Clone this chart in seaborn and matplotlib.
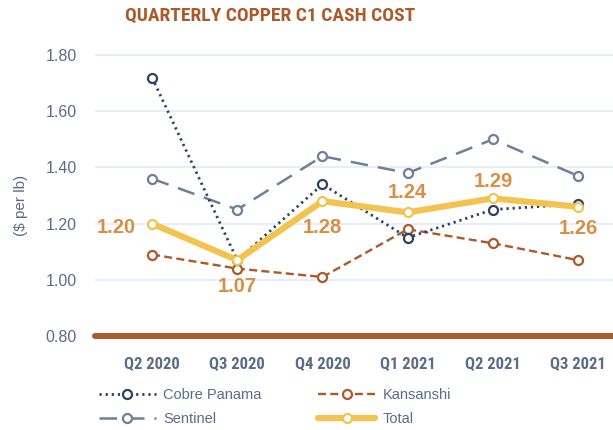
import matplotlib
matplotlib.use("Agg")
import matplotlib.pyplot as plt
from matplotlib import font_manager
import seaborn as sns
import pandas as pd

quarters = ["Q2 2020", "Q3 2020", "Q4 2020", "Q1 2021", "Q2 2021", "Q3 2021"]
cobre_panama = [1.72, 1.07, 1.34, 1.15, 1.25, 1.27]
kansanshi = [1.09, 1.04, 1.01, 1.18, 1.13, 1.07]
sentinel = [1.36, 1.25, 1.44, 1.38, 1.50, 1.37]
total = [1.20, 1.07, 1.28, 1.24, 1.29, 1.26]
y_ticks = [0.80, 1.00, 1.20, 1.40, 1.60, 1.80]

df = pd.DataFrame({"quarter": quarters, "Cobre Panama": cobre_panama,
                   "Kansanshi": kansanshi, "Sentinel": sentinel, "Total": total})

sns.set_style("white")
plt.rcParams["font.family"] = ["Liberation Sans", "DejaVu Sans"]

# pick a condensed face if one is installed
names = {f.name for f in font_manager.fontManager.ttflist}
narrow = "Liberation Sans"
for cand in ["Liberation Sans Narrow", "DejaVu Sans Condensed", "Roboto Condensed"]:
    if cand in names:
        narrow = cand
        break

navy = "#2b4262"
brown = "#ad5a2b"
slate = "#6c7f9b"
gold = "#f2c44f"
label_orange = "#d98d45"
text_grey = "#5b6c89"
grid_col = "#e2e9f7"

fig = plt.figure(figsize=(6.13, 4.30), dpi=100)
ax = fig.add_axes([0.155, 0.2186, 0.845, 0.686])

marker_kw = dict(marker="o", markersize=6.5, markerfacecolor="white", markeredgewidth=1.6)

sns.lineplot(data=df, x="quarter", y="Sentinel", ax=ax, sort=False, color=slate,
             linewidth=1.8, linestyle=(0, (7, 4)), markeredgecolor=slate,
             label="Sentinel", **marker_kw)
sns.lineplot(data=df, x="quarter", y="Kansanshi", ax=ax, sort=False, color=brown,
             linewidth=1.7, linestyle=(0, (3.4, 1.8)), markeredgecolor=brown,
             label="Kansanshi", **marker_kw)
sns.lineplot(data=df, x="quarter", y="Cobre Panama", ax=ax, sort=False, color=navy,
             linewidth=2.0, linestyle=(0, (0.8, 1.4)), markeredgecolor=navy,
             label="Cobre Panama", **marker_kw)
sns.lineplot(data=df, x="quarter", y="Total", ax=ax, sort=False, color=gold,
             linewidth=4.5, linestyle="-", markeredgecolor=gold,
             label="Total", **marker_kw)

# value labels for total
offsets = [(-12, -3, "right", "center"), (0, -19, "center", "center"),
           (0, -19, "center", "center"), (0, 14, "center", "center"),
           (0, 12, "center", "center"), (0, -16, "center", "center")]
for i, v in enumerate(total):
    dx, dy, ha, va = offsets[i]
    ax.annotate(f"{v:.2f}", (i, v), xytext=(dx, dy), textcoords="offset points",
                ha=ha, va=va, fontsize=14.5, fontweight="bold", color=label_orange)

ax.set_xlim(-0.67, 5.41)
ax.set_ylim(0.80, 1.85)
ax.set_yticks(y_ticks)
ax.set_yticklabels([f"{t:.2f}" for t in y_ticks])
for t in y_ticks[1:]:
    ax.axhline(t, color=grid_col, linewidth=1.1, zorder=0)
ax.axhline(0.80, color=brown, linewidth=4.3, zorder=1, clip_on=False)

for s in ax.spines.values():
    s.set_visible(False)

ax.set_xlabel("")
ax.set_ylabel("")
ax.tick_params(axis="y", length=0, pad=13, labelsize=11.5, labelcolor=text_grey)
ax.tick_params(axis="x", length=0, pad=15, labelsize=12, labelcolor=text_grey)
for lab in ax.get_xticklabels():
    lab.set_fontweight("bold")
    lab.set_family([narrow, "DejaVu Sans"])

fig.text(0.441, 0.963, "QUARTERLY COPPER C1 CASH COST", ha="center", va="center",
         fontsize=14 if narrow != "Liberation Sans" else 11.8, fontweight="bold",
         color=brown, family=[narrow, "DejaVu Sans"])
fig.text(0.035, 0.523, "($ per lb)", rotation=90, ha="center", va="center",
         fontsize=11, color=text_grey)

handles, labels = ax.get_legend_handles_labels()
order = ["Cobre Panama", "Sentinel", "Kansanshi", "Total"]
hmap = dict(zip(labels, handles))
ax.get_legend().remove()
leg = fig.legend([hmap[k] for k in order], order, loc="upper left",
                 bbox_to_anchor=(0.1615, 0.097), ncol=2, frameon=False,
                 fontsize=10.5, handlelength=3.9, handletextpad=0.5,
                 columnspacing=3.9, labelspacing=0.7, borderpad=0, borderaxespad=0)
for t in leg.get_texts():
    t.set_color(text_grey)

fig.savefig("out.png", dpi=100)
